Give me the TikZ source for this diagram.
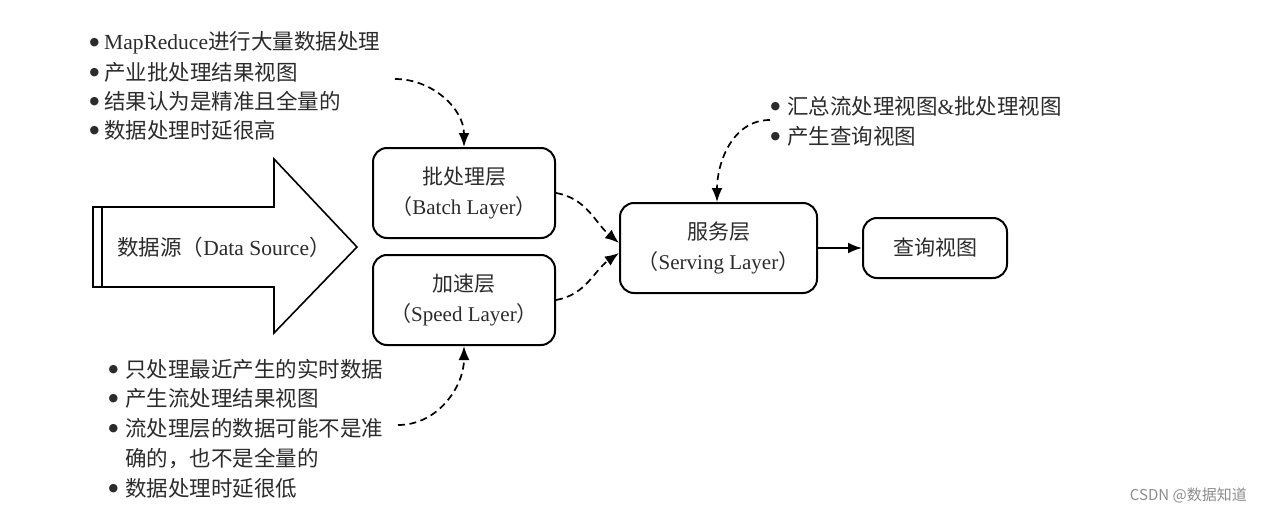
\documentclass[tikz,border=0pt]{standalone}
\usepackage{fontspec}
\setmainfont{Liberation Serif}
\newfontfamily\cjk{Noto Sans CJK SC}
\newfontfamily\dv{DejaVu Sans}
\usetikzlibrary{arrows.meta}
\newcommand\zh[1]{{\cjk #1}}
\newcommand\bl[1]{\makebox[#1][l]{\raisebox{4.5pt}{\dv\fontsize{11}{11}\selectfont ●}}}
\definecolor{txt}{HTML}{2B2B2B}
\tikzset{
  box/.style={draw=black, line width=2pt, rounded corners=14pt, text=txt, align=center,
    font=\fontsize{21}{30}\selectfont, inner sep=0pt},
  lbl/.style={anchor=west, inner sep=0pt, text=txt, font=\fontsize{21.5}{30}\selectfont},
  dsh/.style={line width=1.7pt, dash pattern=on 7pt off 4.5pt, -{Latex[length=14pt,width=11pt]}},
  solidarr/.style={line width=2pt, -{Latex[length=14pt,width=11pt]}},
}
\begin{document}
\begin{tikzpicture}[x=1pt,y=-1pt]
\useasboundingbox (0,0) rectangle (1262,514);
% big arrow
\draw[line width=1.6pt, line join=miter] (93,207) -- (274,207) -- (274,159) -- (357,247) -- (274,333) -- (274,287) -- (93,287) -- cycle;
\draw[line width=1.6pt] (102,207) -- (102,287);
\node[lbl, anchor=center] (src) at (224,247) {\zh{数据源（}Data Source\zh{）}};
% boxes
\node[box, minimum width=182pt, minimum height=90pt] (batch) at (464,193) {\zh{批处理层}\\\zh{（}Batch Layer\zh{）}};
\node[box, minimum width=182pt, minimum height=90pt] (speed) at (464,300) {\zh{加速层}\\\zh{（}Speed Layer\zh{）}};
\node[box, minimum width=197pt, minimum height=90pt] (serve) at (718.5,248) {\zh{服务层}\\\zh{（}Serving Layer\zh{）}};
\node[box, minimum width=144pt, minimum height=60pt] (query) at (935,248) {\zh{查询视图}};
% top-left text
\node[lbl] (a1) at (89.5,43) {\bl{14.5pt}MapReduce\zh{进行大量数据处理}};
\node[lbl] (a2) at (89.5,72) {\bl{14.5pt}\zh{产业批处理结果视图}};
\node[lbl] (a3) at (89.5,101) {\bl{14.5pt}\zh{结果认为是精准且全量的}};
\node[lbl] (a4) at (89.5,130) {\bl{14.5pt}\zh{数据处理时延很高}};
% top-right text
\node[lbl] (b1) at (770.5,106) {\bl{16.5pt}\zh{汇总流处理视图}\&\zh{批处理视图}};
\node[lbl] (b2) at (770.5,136) {\bl{16.5pt}\zh{产生查询视图}};
% bottom text
\node[lbl] (c1) at (108.5,369) {\bl{16.5pt}\zh{只处理最近产生的实时数据}};
\node[lbl] (c2) at (108.5,398) {\bl{16.5pt}\zh{产生流处理结果视图}};
\node[lbl] (c3) at (108.5,428) {\bl{16.5pt}\zh{流处理层的数据可能不是准}};
\node[lbl] (c4) at (125,458) {\zh{确的，也不是全量的}};
\node[lbl] (c5) at (108.5,488) {\bl{16.5pt}\zh{数据处理时延很低}};
% connector anchors
\coordinate (p1) at (395,79);
\coordinate (p2) at (770,120);
\coordinate (p3) at (398,425);
\draw[dsh] (p1) to[out=0,in=90] (batch.north);
\draw[dsh] (batch.east) to[out=-10,in=140] ([yshift=5pt]serve.west);
\draw[dsh] (speed.east) to[out=10,in=-145] ([yshift=-5pt]serve.west);
\draw[dsh] (p2) to[out=180,in=90] ([xshift=-1.5pt]serve.north);
\draw[dsh] (p3) to[out=0,in=-90] (speed.south);
\draw[solidarr] (serve) -- (query);
% watermark
\node[anchor=east, inner sep=0pt, text=black!45, font=\cjk\fontsize{15}{18}\selectfont] (wm) at (1247,495) {CSDN @数据知道};
\end{tikzpicture}
\end{document}
